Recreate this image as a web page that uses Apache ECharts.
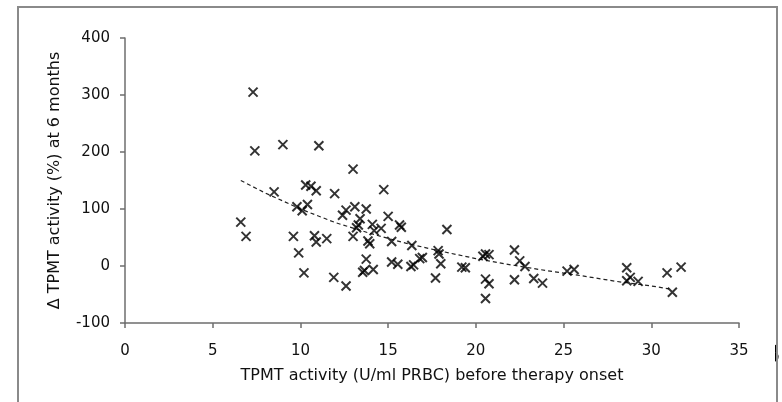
<!DOCTYPE html>
<html>
<head>
<meta charset="utf-8">
<script src="https://cdn.jsdelivr.net/npm/echarts@6/dist/echarts.min.js"></script>
<style>html,body{margin:0;padding:0;background:#fff;}#c{width:782px;height:402px;}</style>
</head>
<body>
<div id="c"></div>
<script>
// TPMT activity (U/ml PRBC) before therapy onset
var tpmtBefore = [6.6,6.9,7.3,7.4,8.5,9.0,9.6,9.9,10.2,9.8,10.1,10.4,10.3,10.6,10.9,10.8,10.9,11.05,11.5,11.9,11.95,12.4,12.6,12.6,13.0,13.1,13.0,13.2,13.3,13.4,13.75,13.85,13.95,13.75,13.55,13.65,14.15,14.1,14.2,14.6,14.75,15.0,15.2,15.2,15.55,15.65,15.75,16.35,16.3,16.45,16.8,16.95,17.7,17.85,17.9,18.0,18.35,19.2,19.4,20.4,20.55,20.75,20.55,20.75,20.55,22.2,22.2,22.5,22.8,23.3,23.8,25.2,25.6,28.6,28.8,28.6,29.25,30.9,31.7,31.2];
// Δ TPMT activity (%) at 6 months
var deltaTpmt = [77,52,305,202,130,213,52,23,-12,104,97,108,142,140,132,53,42,211,48,-20,127,89,98,-35,170,104,52,67,72,83,100,44,39,12,-11,-8,-6,73,62,66,134,87,43,7,3,72,68,36,-1,2,13,15,-21,27,21,4,64,-2,-3,17,21,20,-23,-31,-57,28,-24,9,-1,-22,-30,-9,-6,-3,-20,-26,-27,-12,-2,-46];
// trend line
var trendX = [6.6,8,10,12,14,16,18,20,22,24,26,28,30,31];
var trendY = [150,128,100,76,57,40,26,13,2,-8,-17,-27,-35,-40];

var xTicks = {min:0, max:35, interval:5};
var yTicks = {min:-100, max:400, interval:100};
var xName = 'TPMT activity (U/ml PRBC) before therapy onset';
var yName = 'Δ TPMT activity (%) at 6 months';

var pts = tpmtBefore.map(function(x,i){return [x, deltaTpmt[i]];});
var trend = trendX.map(function(x,i){return [x, trendY[i]];});

var FONT = 'DejaVu Sans';
var axisCol = '#6e6e6e';
var chart = echarts.init(document.getElementById('c'), null, {renderer:'canvas'});
chart.setOption({
  animation:false,
  backgroundColor:'#fff',
  grid:{left:125, right:43, top:38, bottom:79, containLabel:false},
  xAxis:{
    type:'value', min:xTicks.min, max:xTicks.max, interval:xTicks.interval,
    name:xName, nameLocation:'middle', nameGap:45,
    nameTextStyle:{fontFamily:FONT, fontSize:16, color:'#111'},
    axisLine:{show:true, onZero:false, lineStyle:{color:axisCol, width:1.5}},
    axisTick:{show:true, inside:false, length:5, lineStyle:{color:axisCol, width:1.5}},
    axisLabel:{margin:21, fontFamily:FONT, fontSize:15, color:'#111'},
    splitLine:{show:false}
  },
  yAxis:{
    type:'value', min:yTicks.min, max:yTicks.max, interval:yTicks.interval,
    name:yName, nameLocation:'middle', nameGap:62, nameRotate:90,
    nameTextStyle:{fontFamily:FONT, fontSize:16, color:'#111'},
    axisLine:{show:true, onZero:false, lineStyle:{color:axisCol, width:1.5}},
    axisTick:{show:true, inside:false, length:5, lineStyle:{color:axisCol, width:1.5}},
    axisLabel:{margin:15, fontFamily:FONT, fontSize:15, color:'#111'},
    splitLine:{show:false}
  },
  series:[
    {
      type:'line', data:trend, symbol:'none', smooth:false, z:1,
      lineStyle:{color:'#222', width:1.2, type:[4,3]}
    },
    {
      type:'scatter', data:pts, z:2,
      symbol:'path://M0,0L10,10M10,0L0,10', symbolSize:9,
      itemStyle:{color:'rgba(0,0,0,0)', borderColor:'#000', borderWidth:2}
    }
  ],
  graphic:[
    {type:'text', left:762, top:344, z:10, style:{text:'B', fontFamily:FONT, fontSize:24, fontWeight:'bold', fill:'#000'}},
    {type:'rect', z:11, shape:{x:753, y:335, width:22, height:45}, style:{fill:'#fff'}},
    {type:'rect', z:12, shape:{x:18, y:7, width:759, height:430}, style:{fill:'none', stroke:'#8a8a8a', lineWidth:2}}
  ]
});
</script>
</body>
</html>
